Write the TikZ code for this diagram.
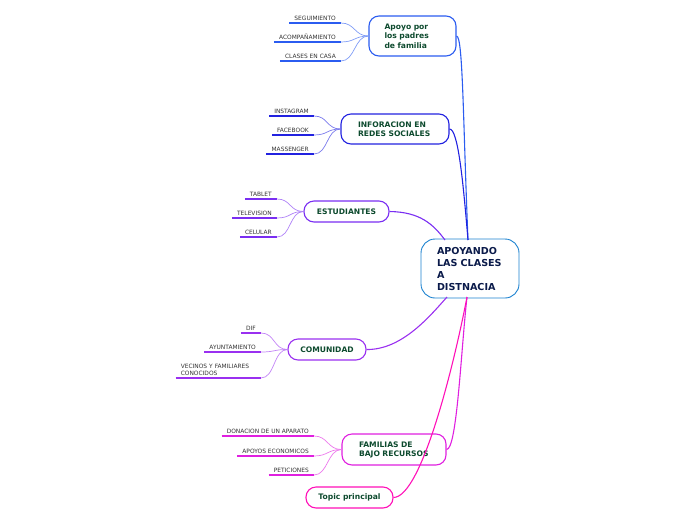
\documentclass[tikz,border=0pt]{standalone}
\usepackage{fontspec}
\setmainfont{DejaVu Sans}
\definecolor{cApo}{HTML}{2B5CF0}
\definecolor{cInf}{HTML}{2222E0}
\definecolor{cEst}{HTML}{7A2EF2}
\definecolor{cCom}{HTML}{9A30F0}
\definecolor{cFam}{HTML}{E020E0}
\definecolor{cTop}{HTML}{FF10B8}
\definecolor{cCen}{HTML}{1C82D0}
\definecolor{tGreen}{HTML}{0D4A2E}
\definecolor{tNavy}{HTML}{0A1A4A}
\definecolor{tLeaf}{HTML}{333333}
\tikzset{
  topicbox/.style={draw=#1, line width=1.1pt, rounded corners=10pt, fill=white,
    font=\bfseries\fontsize{7.6}{9}\selectfont, text=tGreen, align=left, inner sep=0pt},
  centralbox/.style={draw=cCen, line width=0.9pt, rounded corners=14pt, fill=white,
    font=\bfseries\fontsize{9.6}{12}\selectfont, text=tNavy, align=left, inner sep=0pt,
    minimum width=98pt, minimum height=59pt, text width=66pt},
  leaf/.style={anchor=south east, inner xsep=5pt, inner ysep=2.2pt,
    font=\fontsize{5.9}{7}\selectfont, text=tLeaf},
  uline/.style={draw=#1, line width=1.6pt},
  twig/.style={draw=#1!60, line width=0.7pt},
  branch/.style={draw=#1, line width=1.1pt},
}
\begin{document}
\begin{tikzpicture}[x=1pt,y=-1pt]
\useasboundingbox (0,0) rectangle (696,520);

% central
\node[centralbox] (c) at (470,268.5) {APOYANDO\\LAS CLASES\\A\\DISTNACIA};
\coordinate (cT) at (468,240);
\coordinate (cTL) at (445,240);
\coordinate (cB) at (467,297);
\coordinate (cBL) at (447,297);

% main topics
\node[topicbox=cApo, minimum width=87pt, minimum height=40pt, text width=56pt, font=\bfseries\fontsize{7.6}{9.3}\selectfont] (ap) at (412.5,36) {Apoyo por\\los padres\\de familia};
\node[topicbox=cInf, minimum width=108pt, minimum height=30pt, text width=74pt] (in) at (395,129) {INFORACION EN\\REDES SOCIALES};
\node[topicbox=cEst, minimum width=85pt, minimum height=21pt, align=center] (es) at (346.5,211.5) {ESTUDIANTES};
\node[topicbox=cCom, minimum width=78pt, minimum height=21pt, align=center] (co) at (327,349.5) {COMUNIDAD};
\node[topicbox=cFam, minimum width=104pt, minimum height=31pt, text width=70pt] (fa) at (394,449.5) {FAMILIAS DE\\BAJO RECURSOS};
\node[topicbox=cTop, minimum width=87pt, minimum height=21pt, align=center] (tp) at (349.5,497.5) {Topic principal};

% branches to central
\draw[branch=cApo] (ap.east) .. controls (463,36) and (463,120) .. (cT);
\draw[branch=cInf] (in.east) .. controls (458,129) and (463,180) .. (cT);
\draw[branch=cEst] (es.east) .. controls (420,212) and (433,224) .. (cTL);
\draw[branch=cCom] (co.east) .. controls (402,350) and (430,316) .. (cBL);
\draw[branch=cFam] (fa.east) .. controls (457,450) and (461,350) .. (cB);
\draw[branch=cTop] (tp.east) .. controls (422,497) and (455,360) .. (cB);

% leaves: Apoyo
\node[leaf] (a1) at (341,23) {SEGUIMIENTO};
\node[leaf] (a2) at (341,42) {ACOMPAÑAMIENTO};
\node[leaf] (a3) at (341,61) {CLASES EN CASA};
\foreach \l in {a1,a2,a3}{
  \draw[uline=cApo] (\l.south west) -- (\l.south east);
  \draw[twig=cApo] (ap.west) .. controls +(-14,0) and +(14,0) .. (\l.south east);
}
% leaves: Inforacion
\node[leaf] (i1) at (314,116) {INSTAGRAM};
\node[leaf] (i2) at (314,135) {FACEBOOK};
\node[leaf] (i3) at (314,154) {MASSENGER};
\foreach \l in {i1,i2,i3}{
  \draw[uline=cInf] (\l.south west) -- (\l.south east);
  \draw[twig=cInf] (in.west) .. controls +(-14,0) and +(14,0) .. (\l.south east);
}
% leaves: Estudiantes
\node[leaf] (e1) at (277,199) {TABLET};
\node[leaf] (e2) at (277,218) {TELEVISION};
\node[leaf] (e3) at (277,237) {CELULAR};
\foreach \l in {e1,e2,e3}{
  \draw[uline=cEst] (\l.south west) -- (\l.south east);
  \draw[twig=cEst] (es.west) .. controls +(-14,0) and +(14,0) .. (\l.south east);
}
% leaves: Comunidad
\node[leaf] (m1) at (261,333) {DIF};
\node[leaf] (m2) at (261,352) {AYUNTAMIENTO};
\node[leaf, text width=75pt, align=left, font=\fontsize{5.9}{7.2}\selectfont] (m3) at (261,378) {VECINOS Y FAMILIARES\\CONOCIDOS};
\foreach \l in {m1,m2,m3}{
  \draw[uline=cCom] (\l.south west) -- (\l.south east);
  \draw[twig=cCom] (co.west) .. controls +(-14,0) and +(14,0) .. (\l.south east);
}
% leaves: Familias
\node[leaf] (f1) at (314,436) {DONACION DE UN APARATO};
\node[leaf] (f2) at (314,456) {APOYOS ECONOMICOS};
\node[leaf] (f3) at (314,475) {PETICIONES};
\foreach \l in {f1,f2,f3}{
  \draw[uline=cFam] (\l.south west) -- (\l.south east);
  \draw[twig=cFam] (fa.west) .. controls +(-14,0) and +(14,0) .. (\l.south east);
}
\end{tikzpicture}
\end{document}
